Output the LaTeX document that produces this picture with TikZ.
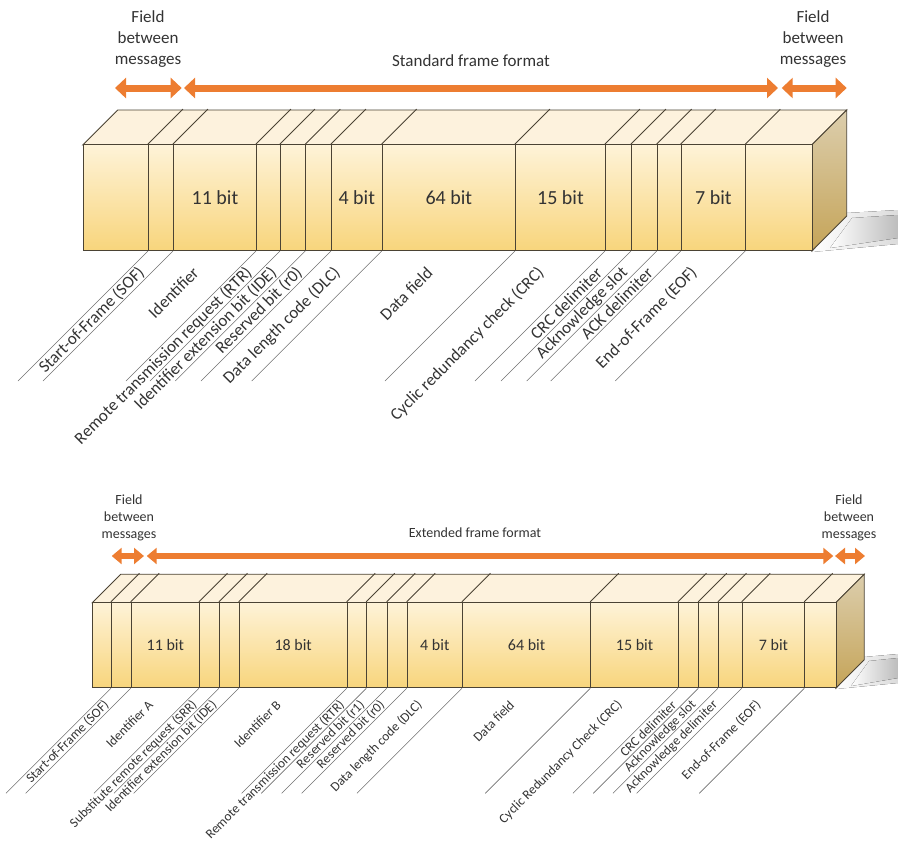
\documentclass[tikz,border=0pt]{standalone}
\usepackage{fontspec}
\setmainfont{Carlito}
\usepackage{tikz}
\usetikzlibrary{arrows.meta, calc, positioning}

\definecolor{frontTop}{HTML}{FEF3D8}
\definecolor{frontBot}{HTML}{F8D57C}
\definecolor{topFace}{HTML}{FDF2DD}
\definecolor{sideTop}{HTML}{DCCEAD}
\definecolor{sideBot}{HTML}{C5A458}
\definecolor{edgeGray}{HTML}{4B4334}
\definecolor{leadGray}{HTML}{707070}
\definecolor{inkGray}{HTML}{333333}
\definecolor{spanOrange}{HTML}{ED7D31}

\tikzset{
  field/.style={draw=edgeGray, line width=0.9pt, top color=frontTop,
    bottom color=frontBot, anchor=south west, inner sep=0pt, text=inkGray},
  face/.style={draw=edgeGray, line width=0.9pt},
  leader/.style={draw=leadGray, line width=0.6pt},
  fieldlab/.style={anchor=east, rotate=45, inner sep=0pt, text=inkGray},
  caption/.style={align=center, text=inkGray},
  outershade/.style={left color=white, right color=gray!28},
  innershade/.style={left color=white, right color=gray!52},
  stdarrow/.style={draw=spanOrange, line width=7pt,
    {Triangle[width=20pt,length=11pt]}-{Triangle[width=20pt,length=11pt]}},
  extarrow/.style={draw=spanOrange, line width=5.5pt,
    {Triangle[width=16pt,length=10pt]}-{Triangle[width=16pt,length=10pt]}},
  stdbits/.style={font=\fontsize{20}{24}\selectfont},
  extbits/.style={font=\fontsize{16}{19}\selectfont},
  stdlabs/.style={font=\fontsize{17}{20}\selectfont},
  extlabs/.style={font=\fontsize{13.3}{16}\selectfont},
  stdcap/.style={font=\fontsize{17}{21}\selectfont},
  extcap/.style={font=\fontsize{14}{17}\selectfont},
}

\begin{document}
\begin{tikzpicture}[x=1pt, y=-1pt]
  \useasboundingbox (0,0) rectangle (898,841);

  \fill[outershade] (812,252) -- (846.7,213) -- (898,210) -- (898,244) -- cycle;
  \fill[innershade] (830,248) -- (852,218) -- (898,215) -- (898,238) -- cycle;
  \fill[outershade] (836,689) -- (864.2,657) -- (898,654) -- (898,683) -- cycle;
  \fill[innershade] (851,686) -- (869,661) -- (898,658) -- (898,678) -- cycle;

  \draw[face, fill=topFace] (82.7,145) -- (117.7,110) -- (846.7,110) -- (811.7,145) -- cycle;
  \draw[face, top color=sideTop, bottom color=sideBot] (811.7,145) -- (846.7,110) -- (846.7,216) -- (811.7,251) -- cycle;

  \foreach \xl/\xr/\bits [count=\i] in {82.7/148/{}, 148/173/{}, 173/256/{11 bit},
      256/280/{}, 280/305.3/{}, 305.3/331/{}, 331/381.7/{4 bit}, 381.7/515/{64 bit},
      515/605/{15 bit}, 605/631/{}, 631/656.7/{}, 656.7/680.7/{}, 680.7/745.3/{7 bit},
      745.3/811.7/{}}
    \node[field, stdbits, minimum width={(\xr-\xl)*1pt}, minimum height=106pt] (std\i) at (\xl,251) {\bits};

  \foreach \i in {2,...,14} {
    \draw[face] (std\i.north west) -- ++(35,-35);
    \draw[leader] (std\i.south west) -- ++(-130,130) coordinate (stdend\i);
  }

  \foreach \lab [count=\i from 2] in {{Start-of-Frame (SOF)}, {Identifier},
      {Remote transmission request (RTR)}, {Identifier extension bit (IDE)},
      {Reserved bit (r0)}, {Data length code (DLC)}, {Data field},
      {Cyclic redundancy check (CRC)}, {CRC delimiter}, {Acknowledge slot},
      {ACK delimiter}, {End-of-Frame (EOF)}}
    \node[fieldlab, stdlabs] (stdlab\i) at ($(std\i.south)+(-19,19)$) {\lab};

  \coordinate (stdgapL1) at (115,88);
  \coordinate (stdgapL2) at (181.7,88);
  \coordinate (stdspan1) at (184,88);
  \coordinate (stdspan2) at (778,88);
  \coordinate (stdgapR1) at (781.7,88);
  \coordinate (stdgapR2) at (846.7,88);
  \draw[stdarrow] (stdgapL1) -- (stdgapL2);
  \draw[stdarrow] (stdspan1) -- (stdspan2);
  \draw[stdarrow] (stdgapR1) -- (stdgapR2);

  \node[caption, stdcap] (stdgapLtxt) at (148,39) {Field\\between\\messages};
  \node[caption, stdcap] (stdgapRtxt) at (813,39) {Field\\between\\messages};
  \node[caption, stdcap] (stdtitle) at (471,61) {Standard frame format};

  \draw[face, fill=topFace] (92.3,602.7) -- (120.8,574.2) -- (864.2,574.2) -- (835.7,602.7) -- cycle;
  \draw[face, top color=sideTop, bottom color=sideBot] (835.7,602.7) -- (864.2,574.2) -- (864.2,659.8) -- (835.7,688.3) -- cycle;

  \foreach \xl/\xr/\bits [count=\i] in {92.3/111/{}, 111/130.7/{}, 130.7/199/{11 bit},
      199/219/{}, 219/238.7/{}, 238.7/346.7/{18 bit}, 346.7/366.3/{}, 366.3/386.7/{},
      386.7/406.7/{}, 406.7/462/{4 bit}, 462/590.3/{64 bit}, 590.3/678/{15 bit},
      678/698.3/{}, 698.3/718/{}, 718/741.7/{}, 741.7/804.3/{7 bit}, 804.3/835.7/{}}
    \node[field, extbits, minimum width={(\xr-\xl)*1pt}, minimum height=85.6pt] (ext\i) at (\xl,688.3) {\bits};

  \foreach \i in {2,...,17} {
    \draw[face] (ext\i.north west) -- ++(28.5,-28.5);
    \draw[leader] (ext\i.south west) -- ++(-105,105) coordinate (extend\i);
  }

  \foreach \lab [count=\i from 2] in {{Start-of-Frame (SOF)}, {Identifier A},
      {Substitute remote request (SRR)}, {Identifier extension bit (IDE)},
      {Identifier B}, {Remote transmission request (RTR)}, {Reserved bit (r1)},
      {Reserved bit (r0)}, {Data length code (DLC)}, {Data field},
      {Cyclic Redundancy Check (CRC)}, {CRC delimiter}, {Acknowledge slot},
      {Acknowledge delimiter}, {End-of-Frame (EOF)}}
    \node[fieldlab, extlabs] (extlab\i) at ($(ext\i.south)+(-14.5,14.5)$) {\lab};

  \coordinate (extgapL1) at (111.7,556);
  \coordinate (extgapL2) at (144,556);
  \coordinate (extspan1) at (146.7,556);
  \coordinate (extspan2) at (833.3,556);
  \coordinate (extgapR1) at (835,556);
  \coordinate (extgapR2) at (865,556);
  \draw[extarrow] (extgapL1) -- (extgapL2);
  \draw[extarrow] (extspan1) -- (extspan2);
  \draw[extarrow] (extgapR1) -- (extgapR2);

  \node[caption, extcap] (extgapLtxt) at (129,517.7) {Field\\between\\messages};
  \node[caption, extcap] (extgapRtxt) at (849,517.7) {Field\\between\\messages};
  \node[caption, extcap] (exttitle) at (475,533) {Extended frame format};
\end{tikzpicture}
\end{document}
